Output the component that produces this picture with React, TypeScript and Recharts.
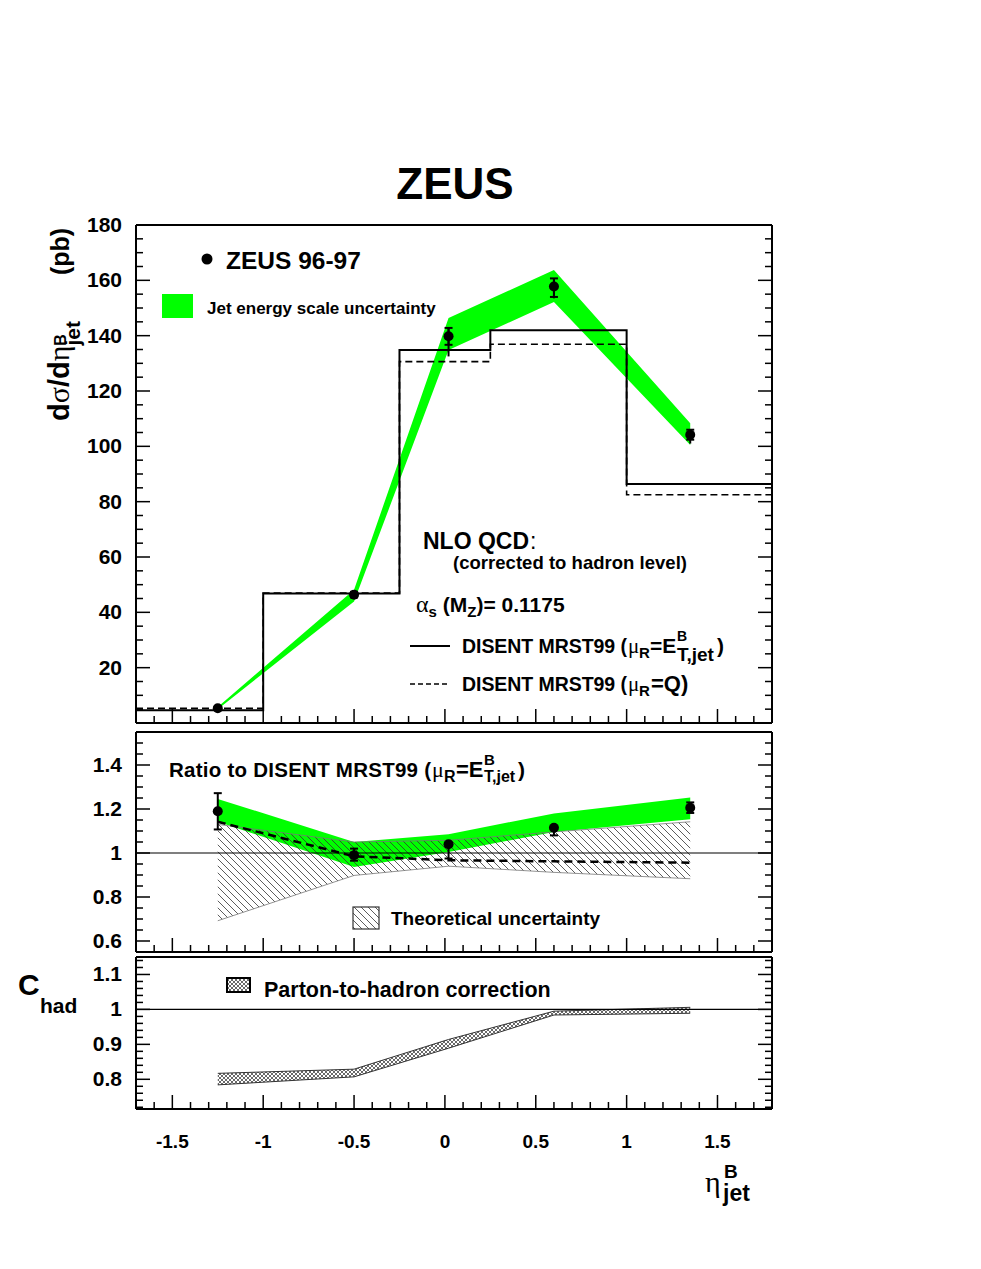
import React from "react";
import {
  Area,
  ComposedChart,
  ErrorBar,
  Line,
  ReferenceLine,
  Scatter,
  XAxis,
  YAxis,
} from "recharts";

const FONT = "'Liberation Sans', Arial, Helvetica, sans-serif";
const GREEK = "'Liberation Serif', 'DejaVu Serif', serif";

// eta of the measured points
const etaPoints = [-1.25, -0.5, 0.02, 0.6, 1.35];

// top panel: dsigma/deta (pb)
const xsecValues = [5.3, 46.4, 139.8, 157.8, 104.2];
const xsecStatDown = [0.6, 1.0, 3.1, 3.8, 1.8];
const xsecStatUp = [0.6, 1.0, 3.0, 2.9, 1.8];
const xsecTotDown = [0.8, 1.4, 7.3, 4.3, 3.2];
const xsecTotUp = [0.6, 1.0, 3.0, 2.9, 1.8];
const jesLow = [5.0, 43.9, 134.8, 152.2, 100.5];
const jesHigh = [5.8, 48.2, 146.4, 163.7, 108.3];

// NLO QCD histograms
const binEdges = [-1.7, -1.0, -0.25, 0.25, 1.0, 1.8];
const nloEt = [4.6, 46.8, 134.8, 142.0, 86.4];
const nloQ = [5.3, 47.0, 130.6, 136.9, 82.5];

// middle panel: ratio to DISENT (muR = ET)
const ratioValues = [1.19, 0.99, 1.04, 1.115, 1.206];
const ratioErrDown = [0.083, 0.025, 0.065, 0.035, 0.024];
const ratioErrUp = [0.082, 0.03, 0, 0, 0.024];
const ratioJesLow = [1.142, 0.936, 1.005, 1.095, 1.153];
const ratioJesHigh = [1.246, 1.05, 1.085, 1.18, 1.252];
const theoLow = [0.692, 0.898, 0.94, 0.912, 0.883];
const theoHigh = [1.13, 1.05, 1.058, 1.096, 1.142];
const ratioQ = [1.142, 0.985, 0.967, 0.962, 0.956];

// bottom panel: C_had
const chadLow = [0.784, 0.807, 0.889, 0.984, 0.989];
const chadHigh = [0.817, 0.829, 0.914, 0.995, 1.006];

// axes
const xDomain = [-1.7, 1.8];
const xLabels = [-1.5, -1, -0.5, 0, 0.5, 1, 1.5];
const topLabels = [20, 40, 60, 80, 100, 120, 140, 160, 180];
const midLabels = [0.6, 0.8, 1, 1.2, 1.4];
const botLabels = [0.8, 0.9, 1, 1.1];

function stepTicks(from: number, to: number, step: number) {
  const out: number[] = [];
  const n = Math.round((to - from) / step);
  for (let i = 0; i <= n; i++) out.push(Math.round((from + i * step) * 1000) / 1000);
  return out;
}

const xTicks = stepTicks(-1.7, 1.8, 0.1);
const topTicks = stepTicks(0, 180, 5);
const midTicks = stepTicks(0.55, 1.55, 0.05);
const botTicks = stepTicks(0.72, 1.14, 0.02);

const onList = (list: number[], v: number) => list.some((l) => Math.abs(l - v) < 1e-6);

function makeTick(side: string, step: number, labels: number[]) {
  return (props: any) => {
    const { x, y, payload } = props;
    const v = Number(payload.value);
    const major = Math.abs(v / step - Math.round(v / step)) < 1e-6;
    const len = major ? 14 : 7;
    let line;
    if (side === "left") line = <line x1={x} x2={x + len} y1={y} y2={y} />;
    else if (side === "right") line = <line x1={x} x2={x - len} y1={y} y2={y} />;
    else if (side === "top") line = <line x1={x} x2={x} y1={y} y2={y + len} />;
    else line = <line x1={x} x2={x} y1={y} y2={y - len} />;
    const show = onList(labels, v);
    return (
      <g>
        <g stroke="#000" strokeWidth={1.5}>{line}</g>
        {show && side === "left" && (
          <text x={x - 14} y={y + 7} textAnchor="end" fontFamily={FONT} fontWeight="bold" fontSize={21} fill="#000">
            {String(v)}
          </text>
        )}
        {show && side === "bottom" && (
          <text x={x} y={y + 39} textAnchor="middle" fontFamily={FONT} fontWeight="bold" fontSize={19} fill="#000">
            {String(v)}
          </text>
        )}
      </g>
    );
  };
}

const frameLine = { stroke: "#000", strokeWidth: 2 };

function frameAxes(yDomain: number[], yTicks: number[], yStep: number, yLabels: number[], withX: boolean) {
  return [
    <XAxis key="xb" type="number" dataKey="x" domain={xDomain} ticks={xTicks} interval={0} height={1}
      tickSize={0} tickMargin={0} tickLine={false} axisLine={frameLine} allowDataOverflow
      tick={makeTick("bottom", 0.5, withX ? xLabels : [])} />,
    <XAxis key="xt" xAxisId="t" orientation="top" type="number" domain={xDomain} ticks={xTicks} interval={0}
      height={1} tickSize={0} tickMargin={0} tickLine={false} axisLine={frameLine} allowDataOverflow
      tick={makeTick("top", 0.5, [])} />,
    <YAxis key="yl" type="number" domain={yDomain} ticks={yTicks} interval={0} width={60}
      tickSize={0} tickMargin={0} tickLine={false} axisLine={frameLine} allowDataOverflow
      tick={makeTick("left", yStep, yLabels)} />,
    <YAxis key="yr" yAxisId="r" orientation="right" type="number" domain={yDomain} ticks={yTicks} interval={0}
      width={1} tickSize={0} tickMargin={0} tickLine={false} axisLine={frameLine} allowDataOverflow
      tick={makeTick("right", yStep, [])} />,
  ];
}

const dot = (props: any) => <circle cx={props.cx} cy={props.cy} r={5} fill="#000" />;

const topPoints = etaPoints.map((x, i) => ({
  x,
  y: xsecValues[i],
  stat: [xsecStatDown[i], xsecStatUp[i]],
  tot: [xsecTotDown[i], xsecTotUp[i]],
}));
const topBand = etaPoints.map((x, i) => ({ x, band: [jesLow[i], jesHigh[i]] }));
const histEt = binEdges.map((x, i) => ({ x, y: nloEt[Math.min(i, nloEt.length - 1)] }));
const histQ = binEdges.map((x, i) => ({ x, y: nloQ[Math.min(i, nloQ.length - 1)] }));

const midPoints = etaPoints.map((x, i) => ({ x, y: ratioValues[i], err: [ratioErrDown[i], ratioErrUp[i]] }));
const midJes = etaPoints.map((x, i) => ({ x, band: [ratioJesLow[i], ratioJesHigh[i]] }));
const midTheo = etaPoints.map((x, i) => ({ x, band: [theoLow[i], theoHigh[i]] }));
const midQ = etaPoints.map((x, i) => ({ x, y: ratioQ[i] }));

const chadBand = etaPoints.map((x, i) => ({ x, band: [chadLow[i], chadHigh[i]] }));

const greek = { fontFamily: GREEK, fontWeight: "normal" as const };

export default function App() {
  return (
    <div style={{ position: "absolute", left: 0, top: 0, width: 981, height: 1269, background: "#fff" }}>
      <div style={{ position: "absolute", left: 0, top: 0 }}>
        <ComposedChart width={981} height={730} margin={{ top: 224, right: 208, bottom: 6, left: 76 }}>
          {frameAxes([0, 180], topTicks, 20, topLabels, false)}
          <Area data={topBand} dataKey="band" type="linear" fill="#00ff00" fillOpacity={1} stroke="none" isAnimationActive={false} />
          <Line data={histEt} dataKey="y" type="stepAfter" stroke="#000" strokeWidth={2} dot={false} isAnimationActive={false} />
          <Line data={histQ} dataKey="y" type="stepAfter" stroke="#000" strokeWidth={1.6} strokeDasharray="7 4" dot={false} isAnimationActive={false} />
          <Scatter data={topPoints} dataKey="y" shape={dot} isAnimationActive={false}>
            <ErrorBar dataKey="tot" direction="y" width={0} stroke="#000" strokeWidth={2} />
            <ErrorBar dataKey="stat" direction="y" width={4} stroke="#000" strokeWidth={2} />
          </Scatter>
        </ComposedChart>
      </div>
      <div style={{ position: "absolute", left: 0, top: 725 }}>
        <ComposedChart width={981} height={232} margin={{ top: 6, right: 208, bottom: 4, left: 76 }}>
          {frameAxes([0.55, 1.55], midTicks, 0.2, midLabels, false)}
          <Area data={midJes} dataKey="band" type="linear" fill="#00ff00" fillOpacity={1} stroke="none" isAnimationActive={false} />
          <Area data={midTheo} dataKey="band" type="linear" fill="url(#hatch)" fillOpacity={1} stroke="#777" strokeWidth={0.8} isAnimationActive={false} />
          <ReferenceLine y={1} stroke="#000" strokeWidth={1.2} />
          <Line data={midQ} dataKey="y" type="linear" stroke="#000" strokeWidth={2.5} strokeDasharray="8 5" dot={false} isAnimationActive={false} />
          <Scatter data={midPoints} dataKey="y" shape={dot} isAnimationActive={false}>
            <ErrorBar dataKey="err" direction="y" width={4} stroke="#000" strokeWidth={2} />
          </Scatter>
        </ComposedChart>
      </div>
      <div style={{ position: "absolute", left: 0, top: 950 }}>
        <ComposedChart width={981} height={210} margin={{ top: 6, right: 208, bottom: 50, left: 76 }}>
          {frameAxes([0.715, 1.15], botTicks, 0.1, botLabels, true)}
          <ReferenceLine y={1} stroke="#000" strokeWidth={1.2} />
          <Area data={chadBand} dataKey="band" type="linear" fill="url(#xhatch)" fillOpacity={1} stroke="#333" strokeWidth={1} isAnimationActive={false} />
        </ComposedChart>
      </div>

      <svg width={981} height={1269} style={{ position: "absolute", left: 0, top: 0, pointerEvents: "none" }}
        fontFamily={FONT} fontWeight="bold" fill="#000">
        <defs>
          <pattern id="hatch" patternUnits="userSpaceOnUse" width={7} height={7}>
            <path d="M0,0 L7,7 M-1,6 L1,8 M6,-1 L8,1" stroke="#333" strokeWidth={0.8} />
          </pattern>
          <pattern id="xhatch" patternUnits="userSpaceOnUse" width={4} height={4}>
            <rect width={4} height={4} fill="#fff" />
            <path d="M0,0 L4,4 M0,4 L4,0" stroke="#444" strokeWidth={0.8} />
          </pattern>
        </defs>

        <text x={455} y={199} textAnchor="middle" fontSize={44}>ZEUS</text>

        <circle cx={207} cy={259} r={5.5} fill="#000" />
        <text x={226} y={269} fontSize={24.5}>ZEUS 96-97</text>
        <rect x={162} y={294} width={31} height={24} fill="#00ff00" />
        <text x={207} y={314} fontSize={17}>Jet energy scale uncertainty</text>

        <text x={423} y={549} fontSize={23}>NLO QCD<tspan fontWeight="normal" dx={1}>:</tspan></text>
        <text x={453} y={569} fontSize={18.5} textLength={234}>(corrected to hadron level)</text>
        <text x={416} y={612} fontSize={21}>
          <tspan {...greek} fontSize={24}>α</tspan>
          <tspan fontSize={15} dy={5}>s</tspan>
          <tspan dy={-5}> (M</tspan>
          <tspan fontSize={15} dy={5}>Z</tspan>
          <tspan dy={-5}>)= 0.1175</tspan>
        </text>

        {/* DISENT legend, mu_R = E_T */}
        <line x1={410} x2={450} y1={646} y2={646} stroke="#000" strokeWidth={2} />
        <text x={462} y={653} fontSize={19.5} textLength={165}>DISENT MRST99 (</text>
        <text x={628} y={653} fontSize={21} {...greek}>μ</text>
        <text x={639} y={658} fontSize={15}>R</text>
        <text x={650} y={653} fontSize={21}>=E</text>
        <text x={677} y={641} fontSize={14}>B</text>
        <text x={677} y={661} fontSize={19}>T,jet</text>
        <text x={717} y={653} fontSize={21}>)</text>

        {/* DISENT legend, mu_R = Q */}
        <line x1={410} x2={450} y1={684} y2={684} stroke="#000" strokeWidth={1.6} strokeDasharray="5 3" />
        <text x={462} y={691} fontSize={19.5} textLength={165}>DISENT MRST99 (</text>
        <text x={628} y={691} fontSize={21} {...greek}>μ</text>
        <text x={639} y={696} fontSize={15}>R</text>
        <text x={651} y={691} fontSize={22}>=Q)</text>

        {/* ratio panel title */}
        <text x={169} y={777} fontSize={20.5} textLength={262}>Ratio to DISENT MRST99 (</text>
        <text x={432} y={777} fontSize={22} {...greek}>μ</text>
        <text x={444} y={782} fontSize={16}>R</text>
        <text x={456} y={777} fontSize={22}>=E</text>
        <text x={484} y={765} fontSize={15}>B</text>
        <text x={484} y={782} fontSize={16}>T,jet</text>
        <text x={518} y={777} fontSize={21}>)</text>

        <rect x={353} y={907} width={26} height={22} fill="url(#hatch)" stroke="#333" strokeWidth={1.2} />
        <text x={391} y={925} fontSize={19}>Theoretical uncertainty</text>

        <rect x={227} y={978} width={23} height={14} fill="url(#xhatch)" stroke="#000" strokeWidth={2} />
        <text x={264} y={997} fontSize={21.5}>Parton-to-hadron correction</text>

        <text x={18} y={995} fontSize={30}>C</text>
        <text x={40} y={1013} fontSize={21}>had</text>

        {/* y axis title, rotated */}
        <g transform="translate(69,421) rotate(-90)">
          <text x={0} y={0} fontSize={29}>
            d<tspan {...greek} fontSize={30}>σ</tspan>/d<tspan {...greek} fontSize={30}>η</tspan>
            <tspan fontSize={16} dy={-3}>B</tspan>
            <tspan fontSize={21} dx={-11.5} dy={14}>jet</tspan>
          </text>
          <text x={146} y={0} fontSize={25}>(pb)</text>
        </g>

        {/* x axis title */}
        <text x={705} y={1192} fontSize={30} {...greek}>η</text>
        <text x={724} y={1178} fontSize={19}>B</text>
        <text x={723} y={1201} fontSize={23}>jet</text>
      </svg>
    </div>
  );
}
